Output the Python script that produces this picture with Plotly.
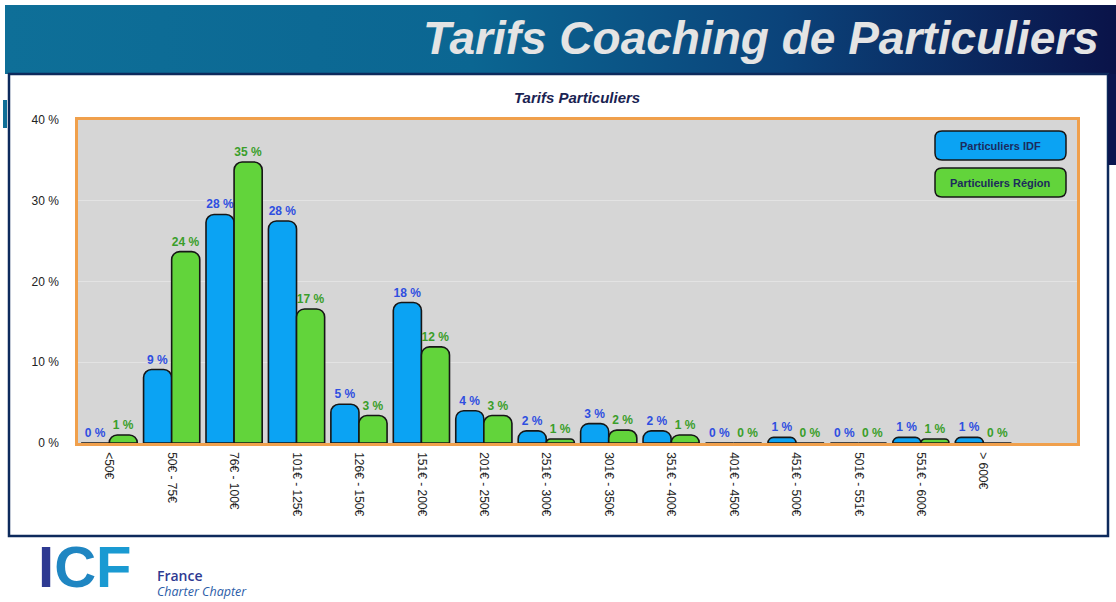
import base64
import plotly.graph_objects as go

categories = ["<50€", "50€ - 75€", "76€ - 100€", "101€ - 125€", "126€ - 150€",
              "151€ - 200€", "201€ - 250€", "251€ - 300€", "301€ - 350€", "351€ - 400€",
              "401€ - 450€", "451€ - 500€", "501€ - 551€", "551€ - 600€", "> 600€"]
idf_values = [0, 9.1, 28.3, 27.5, 4.8, 17.4, 4.0, 1.5, 2.4, 1.5, 0, 0.7, 0, 0.7, 0.7]
idf_labels = [0, 9, 28, 28, 5, 18, 4, 2, 3, 2, 0, 1, 0, 1, 1]
region_values = [1.0, 23.7, 34.8, 16.6, 3.4, 11.9, 3.4, 0.5, 1.6, 1.0, 0, 0, 0, 0.5, 0]
region_labels = [1, 24, 35, 17, 3, 12, 3, 1, 2, 1, 0, 0, 0, 1, 0]
y_ticks = [0, 10, 20, 30, 40]

W, H = 1116, 602
L, R, T, B = 78, 1077, 120, 443

def X(px):
    return (px - L) / (R - L)

def Y(py):
    return (B - py) / (B - T)

BLUE = "#0ba3f3"
GREEN = "#62d43b"
BLUE_TXT = "#2f4fe0"
GREEN_TXT = "#3a9e2a"

xs = list(range(len(categories)))

fig = go.Figure()
fig.add_trace(go.Bar(
    x=xs, y=idf_values, name="Particuliers IDF",
    marker=dict(color=BLUE, line=dict(color="#161616", width=1.6), cornerradius=8),
    text=[f"{v} %" for v in idf_labels], textposition="outside", constraintext="none",
    textfont=dict(color=BLUE_TXT, size=12, family="Liberation Sans", weight="bold"),
    cliponaxis=False,
))
fig.add_trace(go.Bar(
    x=xs, y=region_values, name="Particuliers Région",
    marker=dict(color=GREEN, line=dict(color="#161616", width=1.6), cornerradius=8),
    text=[f"{v} %" for v in region_labels], textposition="outside", constraintext="none",
    textfont=dict(color=GREEN_TXT, size=12, family="Liberation Sans", weight="bold"),
    cliponaxis=False,
))

def rrect(x0, y0, x1, y1, r):
    pts = (f"M {X(x0+r)},{Y(y0)} L {X(x1-r)},{Y(y0)} Q {X(x1)},{Y(y0)} {X(x1)},{Y(y0+r)} "
           f"L {X(x1)},{Y(y1-r)} Q {X(x1)},{Y(y1)} {X(x1-r)},{Y(y1)} "
           f"L {X(x0+r)},{Y(y1)} Q {X(x0)},{Y(y1)} {X(x0)},{Y(y1-r)} "
           f"L {X(x0)},{Y(y0+r)} Q {X(x0)},{Y(y0)} {X(x0+r)},{Y(y0)} Z")
    return pts

shapes = [
    dict(type="rect", xref="paper", yref="paper", x0=X(9), x1=X(1108), y0=Y(74), y1=Y(536),
         line=dict(color="#0d2a5c", width=2.5), fillcolor="rgba(0,0,0,0)", layer="below"),
    dict(type="rect", xref="paper", yref="paper", x0=X(1108), x1=X(1116), y0=Y(74), y1=Y(165),
         line=dict(width=0), fillcolor="#0b1650", layer="below"),
    dict(type="rect", xref="paper", yref="paper", x0=X(3), x1=X(7), y0=Y(100), y1=Y(128),
         line=dict(width=0), fillcolor="#0e6e97", layer="below"),
    dict(type="path", xref="paper", yref="paper", path=rrect(935, 131, 1066, 160, 7),
         fillcolor=BLUE, line=dict(color="#161616", width=1.5)),
    dict(type="path", xref="paper", yref="paper", path=rrect(935, 168, 1066, 197, 7),
         fillcolor=GREEN, line=dict(color="#161616", width=1.5)),
]

svg = (
    '<svg xmlns="http://www.w3.org/2000/svg" width="1111" height="69" viewBox="0 0 1111 69" preserveAspectRatio="none">'
    '<defs><linearGradient id="g" x1="0" y1="0" x2="1" y2="0">'
    '<stop offset="0" stop-color="#0e6f98"/><stop offset="0.42" stop-color="#0b6692"/>'
    '<stop offset="0.7" stop-color="#0b437a"/><stop offset="1" stop-color="#0a1349"/>'
    '</linearGradient></defs><rect width="1111" height="69" fill="url(#g)"/></svg>'
)
src = "data:image/svg+xml;base64," + base64.b64encode(svg.encode()).decode()

images = [dict(source=src, xref="paper", yref="paper", x=X(5), y=Y(5),
               sizex=X(1116) - X(5), sizey=Y(5) - Y(74), xanchor="left", yanchor="top",
               sizing="stretch", layer="below")]

annotations = [
    dict(text="<b><i>Tarifs Coaching de Particuliers</i></b>", xref="paper", yref="paper",
         x=X(1101), y=Y(38), xanchor="right", yanchor="middle", showarrow=False,
         font=dict(family="Liberation Sans", size=46, color="#e4e4e4")),
    dict(text="<b><i>Tarifs Particuliers</i></b>", xref="paper", yref="paper",
         x=X(577), y=Y(97), xanchor="center", yanchor="middle", showarrow=False,
         font=dict(family="Liberation Sans", size=15, color="#1a2352")),
    dict(text="<b>Particuliers IDF</b>", xref="paper", yref="paper",
         x=X(1000.5), y=Y(145.5), xanchor="center", yanchor="middle", showarrow=False,
         font=dict(family="Liberation Sans", size=11, color="#1c2b5c")),
    dict(text="<b>Particuliers Région</b>", xref="paper", yref="paper",
         x=X(1000.5), y=Y(182.5), xanchor="center", yanchor="middle", showarrow=False,
         font=dict(family="Liberation Sans", size=11, color="#1c2b5c")),
    dict(text="<b><span style='color:#2e3a92'>I</span><span style='color:#1f86c2'>C</span>"
              "<span style='color:#1a9ad2'>F</span></b>", xref="paper", yref="paper",
         x=X(36), y=Y(566), xanchor="left", yanchor="middle", showarrow=False,
         font=dict(family="Liberation Sans", size=58, color="#2e3a92")),
    dict(text="France", xref="paper", yref="paper",
         x=X(155), y=Y(575), xanchor="left", yanchor="middle", showarrow=False,
         font=dict(family="Open Sans", size=14, color="#2e3a92", weight=600)),
    dict(text="<i>Charter Chapter</i>", xref="paper", yref="paper",
         x=X(155), y=Y(591), xanchor="left", yanchor="middle", showarrow=False,
         font=dict(family="Open Sans", size=12.5, color="#2b5ca8")),
]

fig.update_layout(
    width=W, height=H,
    margin=dict(l=L, r=W - R, t=T, b=H - B, pad=0),
    paper_bgcolor="white", plot_bgcolor="#d6d6d6",
    barmode="group", bargap=0.1, bargroupgap=0.0,
    showlegend=False,
    shapes=shapes, images=images, annotations=annotations,
    font=dict(family="Liberation Sans", color="#222222"),
    xaxis=dict(
        range=[-0.5, 15.5], tickmode="array", tickvals=xs, ticktext=categories,
        tickangle=90, showgrid=False, zeroline=False,
        showline=True, linecolor="#f0a04c", linewidth=2.5, mirror=True,
        tickfont=dict(size=12, color="#222222"), ticks="", ticklabelstandoff=4,
        fixedrange=True,
    ),
    yaxis=dict(
        range=[0, 40], tickmode="array", tickvals=y_ticks,
        ticktext=[f"{v} %" for v in y_ticks],
        showgrid=True, gridcolor="#e3e3e3", gridwidth=1, zeroline=False,
        showline=True, linecolor="#f0a04c", linewidth=2.5, mirror=True,
        tickfont=dict(size=12, color="#222222"), ticks="", ticklabelstandoff=14,
        fixedrange=True,
    ),
)

fig.write_html("out.html", config={"displayModeBar": False},
               post_script="document.body.style.margin='0';")
